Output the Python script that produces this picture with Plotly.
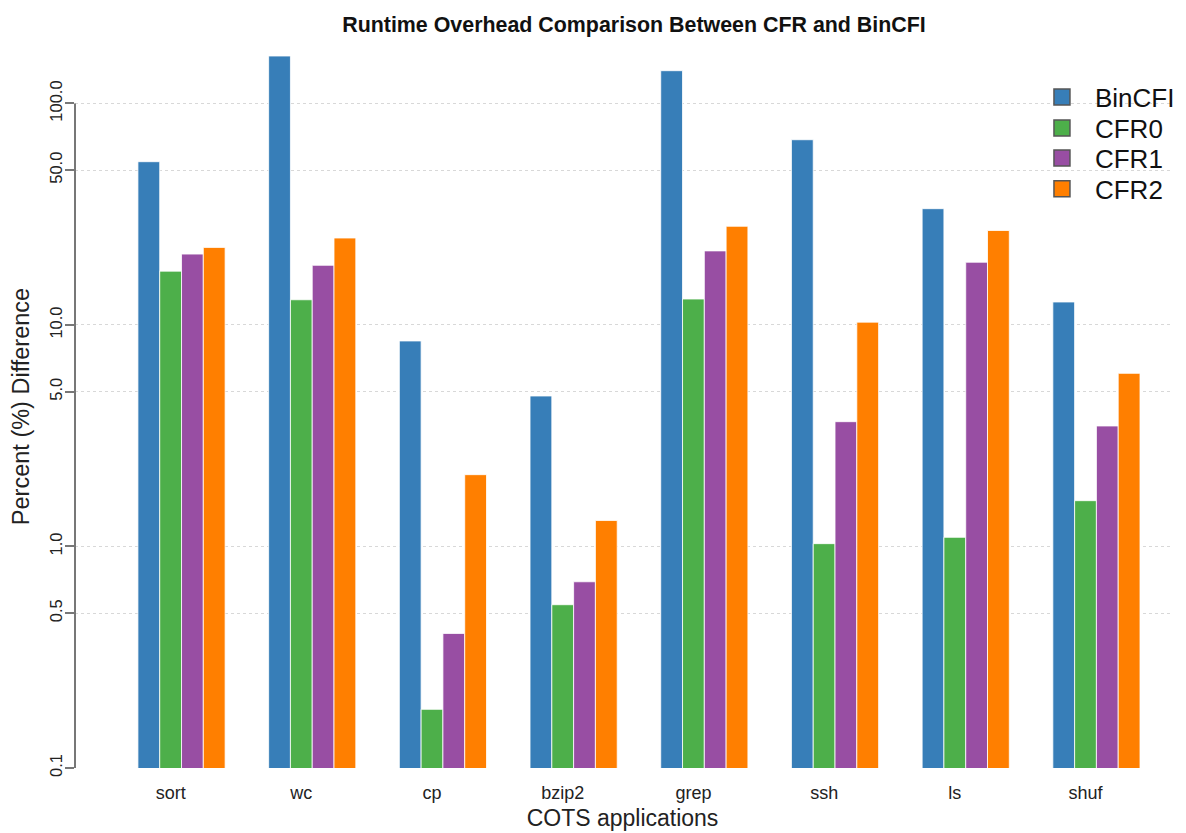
import plotly.graph_objects as go

apps = ["sort", "wc", "cp", "bzip2", "grep", "ssh", "ls", "shuf"]
bincfi = [54.6, 163.8, 8.47, 4.78, 140.6, 68.6, 33.5, 12.7]
cfr0 = [17.5, 13.0, 0.184, 0.546, 13.1, 1.03, 1.10, 1.61]
cfr1 = [20.9, 18.6, 0.405, 0.693, 21.6, 3.66, 19.2, 3.50]
cfr2 = [22.4, 24.7, 2.11, 1.31, 27.9, 10.3, 26.7, 6.05]

series = [("BinCFI", bincfi, "#377EB8"), ("CFR0", cfr0, "#4DAF4A"),
          ("CFR1", cfr1, "#984EA3"), ("CFR2", cfr2, "#FF7F00")]

tick_vals = [0.1, 0.5, 1.0, 5.0, 10.0, 50.0, 100.0]
tick_text = ["0.1", "0.5", "1.0", "5.0", "10.0", "50.0", "100.0"]

xpos = list(range(len(apps)))
label_shift = -0.083  # category labels sit slightly left of the group centre
label_pos = [p + label_shift for p in xpos]

legend_rows = [0.928, 0.885, 0.8437, 0.801]
legend_names = ["legend", "legend2", "legend3", "legend4"]

fig = go.Figure()
for name, vals, col in series:
    fig.add_trace(go.Bar(x=xpos, y=vals, name=name, marker_color=col,
                         marker_line=dict(color="rgba(255,255,255,0.8)", width=1),
                         showlegend=False))
# legend swatches (no data)
for (name, vals, col), lg in zip(series, legend_names):
    fig.add_trace(go.Scatter(x=[None], y=[None], name=name, mode="markers",
                             marker=dict(symbol="square", size=18, color=col,
                                         line=dict(color="#555555", width=1.5)),
                             showlegend=True, legend=lg))

leg_common = dict(x=0.8712, xanchor="left", yanchor="middle",
                  font=dict(size=26, color="#111111"), bgcolor="rgba(0,0,0,0)",
                  itemsizing="trace", itemwidth=56)

fig.update_layout(
    width=1178, height=825,
    margin=dict(l=67, r=6, t=37, b=65),
    paper_bgcolor="white", plot_bgcolor="white",
    font=dict(family="Liberation Sans, Arial, sans-serif", color="#222222"),
    barmode="group", bargap=0.333, bargroupgap=0,
    title=dict(text="<b>Runtime Overhead Comparison Between CFR and BinCFI</b>",
               x=626/1178, xanchor="center", y=1-17/825, yanchor="middle",
               font=dict(size=21.4, color="#111111")),
    legend=dict(y=legend_rows[0], **leg_common),
    legend2=dict(y=legend_rows[1], **leg_common),
    legend3=dict(y=legend_rows[2], **leg_common),
    legend4=dict(y=legend_rows[3], **leg_common),
    xaxis=dict(range=[-0.815, 7.563], showline=False, ticks="outside",
               tickvals=label_pos, ticktext=apps,
               ticklen=8, tickcolor="rgba(0,0,0,0)", zeroline=False,
               tickfont=dict(size=18), showgrid=False, automargin=False,
               title=dict(text="COTS applications", font=dict(size=23), standoff=8)),
    yaxis=dict(type="log", range=[-1, 2.264], tickvals=tick_vals, ticktext=tick_text,
               tickangle=-90, tickfont=dict(size=16.5), ticks="outside", ticklen=9,
               tickcolor="#777777", tickwidth=2, showline=False, automargin=False,
               ticklabelstandoff=-4,
               showgrid=True, gridcolor="#d8d8d8", griddash="dot", gridwidth=1,
               zeroline=False,
               title=dict(text="Percent (%) Difference", font=dict(size=23.5), standoff=14)),
)
fig.add_shape(type="line", xref="paper", yref="y", x0=0, x1=0, y0=0.1, y1=100,
              line=dict(color="#777777", width=2))
fig.write_html("out.html")
